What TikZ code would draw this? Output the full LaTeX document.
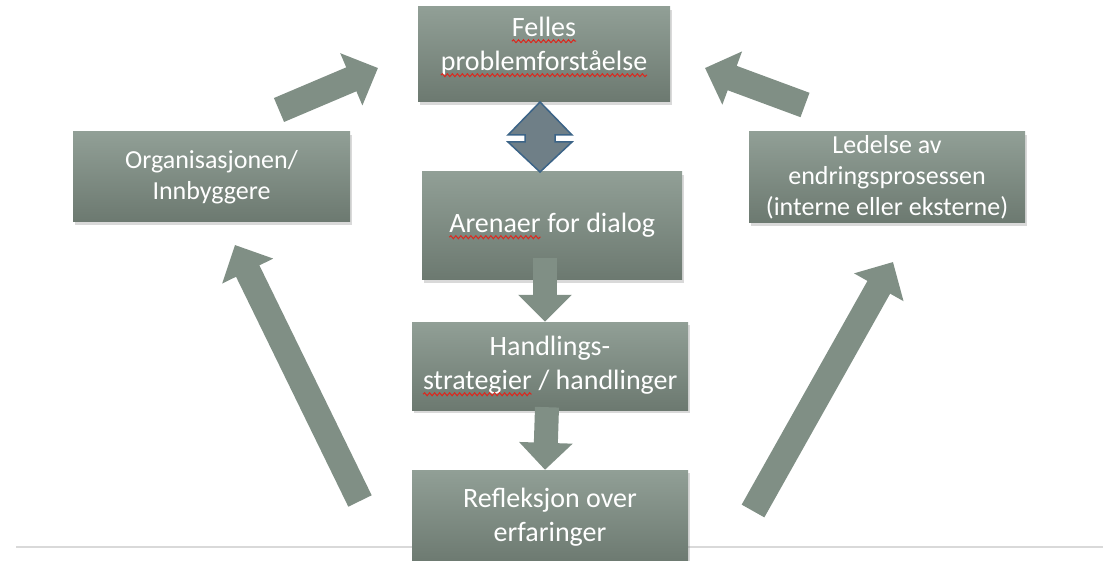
\documentclass[tikz,border=0pt]{standalone}
\usepackage{fontspec}
\setmainfont{Carlito}
\usetikzlibrary{arrows.meta,shadows,decorations.pathmorphing}

\definecolor{boxtop}{RGB}{145,159,150}
\definecolor{boxbot}{RGB}{108,121,112}
\definecolor{arrowgrey}{RGB}{128,143,133}
\definecolor{dblfill}{RGB}{111,127,135}
\definecolor{dbledge}{RGB}{60,100,135}
\definecolor{spellred}{RGB}{220,40,30}
\definecolor{rulegrey}{RGB}{217,217,217}

\newcommand{\spell}[1]{\tikz[baseline=(w.base)]{\node[inner sep=0pt,outer sep=0pt,minimum width=0pt,minimum height=0pt,text depth=] (w) {#1};
  \draw[spellred,line width=1pt,decorate,decoration={snake,amplitude=1.5pt,segment length=5pt}] ([yshift=-5pt]w.base west) -- ([yshift=-5pt]w.base east);}}

\tikzset{
  box/.style={rectangle,top color=boxtop,bottom color=boxbot,text=white,align=center,
    font=\fontsize{28}{34}\selectfont,inner sep=0pt,
    drop shadow={opacity=0.3,shadow xshift=2pt,shadow yshift=-3pt}},
  sidebox/.style={box,font=\fontsize{26}{31}\selectfont},
  bigarrow/.style={draw=arrowgrey,line width=26pt,-{Triangle[width=55pt,length=29pt]}},
  downarrow/.style={draw=arrowgrey,line width=24pt,-{Triangle[width=52pt,length=27pt]}},
  dblarrow/.style={fill=dblfill,draw=dbledge,line width=1.5pt,line join=miter}
}

\begin{document}
\begin{tikzpicture}[x=1pt,y=-1pt]
	\clip (0,0) rectangle (1116,561);
	\draw[rulegrey,line width=1.5pt] (16,547) -- (1103,547);

	% boxes
	\node[box,minimum width=252pt,minimum height=95pt,text depth=22pt] (felles) at (544,54.5) {\spell{Felles}\\\spell{problemforståelse}};
	\node[box,minimum width=260pt,minimum height=108pt] (arena) at (552,226) {\spell{Arenaer} for dialog};
	\node[box,minimum width=276pt,minimum height=88pt] (handl) at (550,366) {Handlings-\\\spell{strategier} / handlinger};
	\node[box,minimum width=276pt,minimum height=94pt] (refl) at (550,517) {Refleksjon over\\erfaringer};
	\node[sidebox,minimum width=277pt,minimum height=90pt] (org) at (211.5,177) {Organisasjonen/\\Innbyggere};
	\node[sidebox,minimum width=276pt,minimum height=91pt] (led) at (887,177.5) {Ledelse av\\endringsprosessen\\(interne eller eksterne)};

	% arrow ends
	\coordinate (orgout) at (279,110);
	\coordinate (fellesin1) at (378,68);
	\coordinate (ledout) at (805,105);
	\coordinate (fellesin2) at (705,68);
	\coordinate (reflout1) at (360,501);
	\coordinate (orgin) at (235,245);
	\coordinate (reflout2) at (753,511);
	\coordinate (ledin) at (893,262);
	\coordinate (dtop) at (540,102);
	\coordinate (dbot) at (540,172);

	\draw[bigarrow] (orgout) -- (fellesin1);
	\draw[bigarrow] (ledout) -- (fellesin2);
	\draw[bigarrow] (reflout1) -- (orgin);
	\draw[bigarrow] (reflout2) -- (ledin);
	\draw[downarrow] ([xshift=-7pt,yshift=22pt]arena.south) -- ([xshift=-5pt]handl.north);
	\draw[downarrow] ([xshift=-3pt,yshift=3pt]handl.south) -- ([xshift=-5pt]refl.north);

	\draw[dblarrow] (dtop) -- ++(32,33) -- ++(-17,0) -- ++(0,7) -- ++(17,0) -- (dbot)
		-- ++(-32,-30) -- ++(17,0) -- ++(0,-7) -- ++(-17,0) -- cycle;
\end{tikzpicture}
\end{document}
